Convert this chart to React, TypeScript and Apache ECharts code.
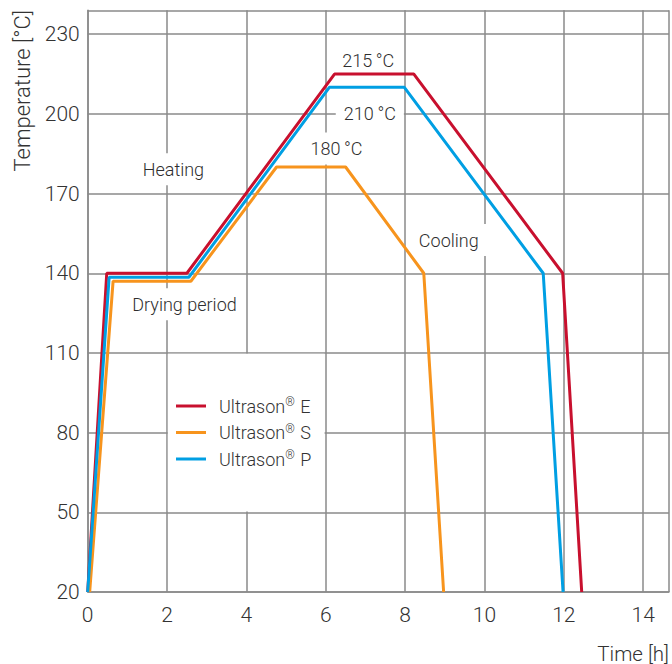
import React, { useEffect, useRef } from "react";
import * as echarts from "echarts";

// ---- data ----
const seriesNames = ["Ultrason® E", "Ultrason® S", "Ultrason® P"];
const seriesColors = ["#c8102e", "#f7941d", "#009fe3"];

const eTime = [0, 0.48, 2.5, 6.22, 8.22, 11.97, 12.45];
const eTemp = [20, 140, 140, 215, 215, 140, 20];
const sTime = [0.05, 0.64, 2.6, 4.76, 6.5, 8.47, 8.97];
const sTemp = [20, 137, 137, 180, 180, 140, 20];
const pTime = [0, 0.54, 2.55, 6.09, 7.98, 11.48, 11.98];
const pTemp = [20, 138.5, 138.5, 210, 210, 140, 20];

const xTicks = [0, 2, 4, 6, 8, 10, 12, 14];
const yTicks = [20, 50, 80, 110, 140, 170, 200, 230];

const noteText = ["215\u2009°C", "210\u2009°C", "180\u2009°C", "Heating", "Drying period", "Cooling"];
const noteX = [7.07, 7.11, 6.27, 2.16, 2.44, 9.1];
const noteY = [220, 200.1, 187, 179.2, 128.3, 152.5];

// legend backdrop corners (data units)
const legendBoxX = [2.02, 5.97];
const legendBoxY = [109.7, 50.3];

const FONT = "Roboto, 'Helvetica Neue', Arial, sans-serif";
const TEXT = "#333";
const GRID = "#8a8a8a";

const zip = (a: number[], b: number[]) => a.map((v, i) => [v, b[i]]);

export default function App() {
  const ref = useRef<HTMLDivElement>(null);
  useEffect(() => {
    if (!ref.current) return;
    const chart = echarts.init(ref.current, undefined, { renderer: "svg" });
    const lineData = [zip(eTime, eTemp), zip(sTime, sTemp), zip(pTime, pTemp)];
    const option: any = {
      animation: false,
      textStyle: { fontFamily: FONT },
      grid: { left: 87.7, top: 10.3, right: 2, bottom: 71.7, containLabel: false },
      xAxis: {
        type: "value",
        min: 0,
        max: 14.65,
        interval: 2,
        axisLine: { show: true, lineStyle: { color: GRID, width: 1.5 } },
        axisTick: { show: false },
        splitLine: { show: true, lineStyle: { color: GRID, width: 1.5 } },
        axisLabel: {
          margin: 12,
          fontSize: 21,
          fontWeight: 300,
          color: TEXT,
          fontFamily: FONT,
          showMaxLabel: false,
          formatter: (v: number) => (xTicks.includes(v) ? String(v) : ""),
        },
        name: "Time [h]",
        nameLocation: "end",
        nameGap: 0,
        nameTextStyle: {
          fontSize: 20.5,
          fontWeight: 300,
          color: TEXT,
          fontFamily: FONT,
          align: "right",
          verticalAlign: "top",
          padding: [51, 0, 0, 0],
        },
      },
      yAxis: {
        type: "value",
        min: 20,
        max: 239,
        interval: 30,
        axisLine: { show: true, lineStyle: { color: GRID, width: 1.5 } },
        axisTick: { show: false },
        splitLine: { show: true, lineStyle: { color: GRID, width: 1.5 } },
        axisLabel: {
          margin: 8,
          fontSize: 21,
          fontWeight: 300,
          color: TEXT,
          fontFamily: FONT,
          showMaxLabel: false,
          formatter: (v: number) => (yTicks.includes(v) ? String(v) : ""),
        },
      },
      legend: {
        orient: "vertical",
        left: 176,
        top: 396,
        padding: 0,
        itemGap: 6.5,
        itemWidth: 30,
        itemHeight: 3,
        icon: "rect",
        data: seriesNames,
        formatter: (name: string) => name.replace("® ", "{r|®} "),
        textStyle: {
          fontSize: 18,
          fontWeight: 300,
          color: TEXT,
          fontFamily: FONT,
          lineHeight: 20,
          padding: [0, 0, 0, 8],
          rich: {
            r: {
              fontSize: 12,
              fontWeight: 300,
              color: TEXT,
              fontFamily: FONT,
              verticalAlign: "top",
              lineHeight: 12,
              padding: [0, 1, 0, 0],
            },
          },
        },
      },
      graphic: [
        {
          type: "text",
          x: 22,
          y: 10,
          rotation: Math.PI / 2,
          style: {
            text: "Temperature [°C]",
            fontSize: 22,
            fontWeight: 300,
            fontFamily: FONT,
            fill: TEXT,
            align: "right",
            verticalAlign: "middle",
          },
        },
      ],
      series: [
        {
          type: "custom",
          name: "legendBox",
          z: 1,
          silent: true,
          data: [[legendBoxX[0], legendBoxY[0], legendBoxX[1], legendBoxY[1]]],
          renderItem: (params: any, api: any) => {
            const p1 = api.coord([api.value(0), api.value(1)]);
            const p2 = api.coord([api.value(2), api.value(3)]);
            return {
              type: "rect",
              shape: { x: p1[0], y: p1[1], width: p2[0] - p1[0], height: p2[1] - p1[1] },
              style: { fill: "#fff" },
            };
          },
        },
        ...seriesNames.map((n, i) => ({
          type: "line",
          name: n,
          data: lineData[i],
          z: 3,
          showSymbol: false,
          symbol: "none",
          color: seriesColors[i],
          lineStyle: { width: 3, color: seriesColors[i] },
        })),
        {
          type: "custom",
          name: "notes",
          z: 2,
          silent: true,
          data: noteX.map((x, i) => [x, noteY[i], i]),
          renderItem: (params: any, api: any) => {
            const p = api.coord([api.value(0), api.value(1)]);
            const idx = api.value(2);
            return {
              type: "text",
              x: p[0],
              y: p[1],
              style: {
                text: noteText[idx],
                fontSize: 18,
                fontWeight: 300,
                fontFamily: FONT,
                fill: "#2e2e2e",
                align: "center",
                verticalAlign: "middle",
                backgroundColor: "#fff",
                padding: [7, 8, 7, 8],
              },
            };
          },
        },
      ],
    };
    chart.setOption(option);
    return () => chart.dispose();
  }, []);
  return (
    <div
      ref={ref}
      style={{ position: "fixed", left: 0, top: 0, width: 672, height: 664, background: "#fff" }}
    />
  );
}
